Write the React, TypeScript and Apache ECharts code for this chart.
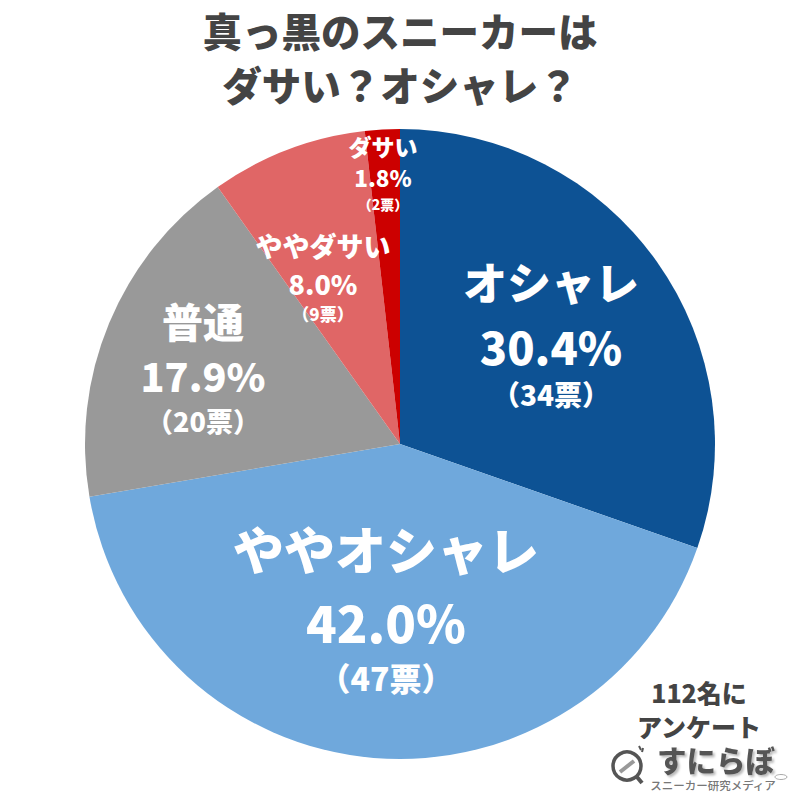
import React, { useEffect, useRef } from "react";
import * as echarts from "echarts";

const categories = ["オシャレ", "ややオシャレ", "普通", "ややダサい", "ダサい"];
const votes = [34, 47, 20, 9, 2];
const percents = ["30.4%", "42.0%", "17.9%", "8.0%", "1.8%"];
const colors = ["#0D5294", "#6FA8DC", "#999999", "#E06666", "#CC0000"];
const titleLines = "真っ黒のスニーカーは\nダサい？オシャレ？";
const noteLines = ["112名に", "アンケート"];
const brand = "すにらぼ";
const brandSub = "スニーカー研究メディア";

const labelLayout = [
  { x: 551, y: [281, 345, 394], size: [44, 45, 28] },
  { x: 386, y: [548, 621, 677], size: [51, 50.5, 32] },
  { x: 203, y: [320, 374, 420], size: [41, 39.5, 27] },
  { x: 323, y: [245, 283, 313], size: [27, 27, 17] },
  { x: 383, y: [146, 177, 204], size: [23, 22.5, 14] },
];
const FONT = '"Noto Sans CJK JP", "Noto Sans", sans-serif';
const GREY = "#444444";

export default function App() {
  const ref = useRef<HTMLDivElement>(null);
  useEffect(() => {
    document.body.style.margin = "0";
    const chart = echarts.init(ref.current!, undefined, { renderer: "svg" });
    const labels: any[] = [];
    categories.forEach((c, i) => {
      const l = labelLayout[i];
      [c, percents[i], `（${votes[i]}票）`].forEach((t, j) => {
        labels.push({
          type: "text",
          x: l.x,
          y: l.y[j],
          z: 10,
          style: {
            text: t,
            fill: "#ffffff",
            font: `900 ${l.size[j]}px ${FONT}`,
            align: "center",
            verticalAlign: "middle",
          },
        });
      });
    });
    const note = noteLines.map((t, i) => ({
      type: "text",
      x: 699,
      y: 692 + i * 34,
      z: 10,
      style: { text: t, fill: GREY, font: `900 25px ${FONT}`, align: "center", verticalAlign: "middle" },
    }));
    const logo = [
      { type: "circle", z: 10, shape: { cx: 627, cy: 766, r: 14 }, style: { fill: "#fff", stroke: "#555", lineWidth: 3.5 } },
      { type: "line", z: 10, shape: { x1: 637, y1: 777, x2: 642, y2: 783 }, style: { stroke: "#555", lineWidth: 4 } },
      { type: "line", z: 11, shape: { x1: 620, y1: 772, x2: 634, y2: 761 }, style: { stroke: "#999", lineWidth: 4 } },
      { type: "line", z: 10, shape: { x1: 639, y1: 746, x2: 641, y2: 750 }, style: { stroke: "#555", lineWidth: 2 } },
      { type: "line", z: 10, shape: { x1: 643, y1: 748, x2: 642, y2: 752 }, style: { stroke: "#555", lineWidth: 2 } },
      { type: "text", z: 10, x: 716, y: 759, style: { text: brand, fill: "#555", font: `900 29.5px ${FONT}`, align: "center", verticalAlign: "middle", textShadowColor: "#bbb", textShadowBlur: 2, textShadowOffsetX: 2, textShadowOffsetY: 2 } },
      { type: "text", z: 10, x: 713, y: 785, style: { text: brandSub, fill: "#777", font: `500 11.5px ${FONT}`, align: "center", verticalAlign: "middle" } },
      { type: "ellipse", z: 10, shape: { cx: 781, cy: 777, rx: 6, ry: 2.5 }, style: { fill: "#fff", stroke: "#aaa", lineWidth: 1 } },
    ];
    chart.setOption({
      animation: false,
      backgroundColor: "#ffffff",
      title: {
        text: titleLines,
        left: "center",
        top: -3,
        textStyle: { color: GREY, fontFamily: FONT, fontWeight: 900, fontSize: 39.5, lineHeight: 54 },
      },
      color: colors,
      series: [
        {
          type: "pie",
          center: [400, 444],
          radius: [0, 315],
          startAngle: 90,
          clockwise: true,
          silent: true,
          label: { show: false },
          labelLine: { show: false },
          itemStyle: { borderWidth: 0 },
          data: categories.map((name, i) => ({ name, value: votes[i] })),
        },
      ],
      graphic: { elements: [...labels, ...note, ...logo] },
    });
    return () => chart.dispose();
  }, []);
  return <div ref={ref} style={{ width: 800, height: 800 }} />;
}
